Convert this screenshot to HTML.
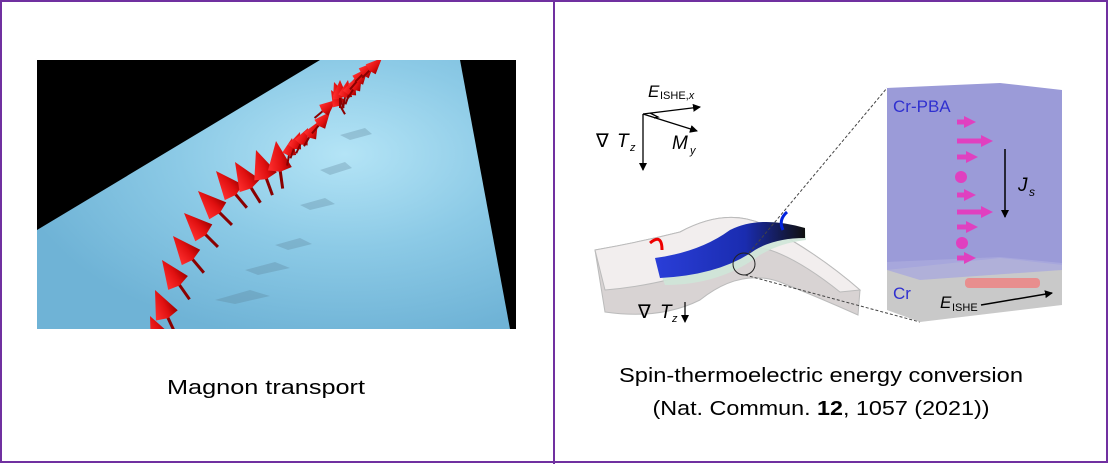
<!DOCTYPE html>
<html><head><meta charset="utf-8"><style>
html,body{margin:0;padding:0;background:#fff}
svg{display:block}
text{font-family:"Liberation Sans",sans-serif}
</style></head><body>
<svg width="1109" height="464" viewBox="0 0 1109 464" xmlns="http://www.w3.org/2000/svg">
<defs>
<radialGradient id="pl" cx="0.65" cy="0.35" r="0.7">
<stop offset="0" stop-color="#b4e4f6"/><stop offset="0.5" stop-color="#8ccae6"/><stop offset="1" stop-color="#6fb3d6"/>
</radialGradient>
<linearGradient id="cone" x1="0" y1="0" x2="1" y2="0"><stop offset="0" stop-color="#ff3030"/><stop offset="0.6" stop-color="#e01010"/><stop offset="1" stop-color="#a00000"/></linearGradient>
<marker id="ah" markerWidth="8" markerHeight="8" refX="7" refY="4" orient="auto" markerUnits="userSpaceOnUse"><path d="M0,0 L8,4 L0,8 z" fill="#000"/></marker>
<marker id="pk" markerWidth="12" markerHeight="12" refX="2" refY="6" orient="auto" markerUnits="userSpaceOnUse"><path d="M0,0 L12,6 L0,12 z" fill="#e040c0"/></marker>
<linearGradient id="blu" x1="0" y1="0" x2="1" y2="0"><stop offset="0" stop-color="#2a3ed8"/><stop offset="0.6" stop-color="#1a2cb0"/><stop offset="1" stop-color="#101010"/></linearGradient>
<g id="arr">
<line x1="0" y1="26" x2="0" y2="48" stroke="#8a0000" stroke-width="3"/>
<polygon points="0,0 -12,28 0,31 12,28" fill="url(#cone)"/>
</g>
<g id="arrs">
<line x1="0" y1="14" x2="0" y2="28" stroke="#8a0000" stroke-width="2"/>
<polygon points="0,0 -7,16 0,18 7,16" fill="url(#cone)"/>
</g>
</defs>
<rect x="0" y="0" width="1109" height="464" fill="#fff"/>
<rect x="1" y="1" width="1106" height="461" fill="none" stroke="#7030a0" stroke-width="2"/>
<line x1="554" y1="0" x2="554" y2="464" stroke="#7030a0" stroke-width="2"/>

<svg x="37" y="60" width="479" height="269" viewBox="37 60 479 269" overflow="hidden">
<rect x="37" y="60" width="479" height="269" fill="#000"/>
<polygon points="37,230 320,60 460,60 510,329 37,329" fill="url(#pl)"/>
<g fill="#5a7f95" opacity="0.3">
<polygon points="215,300 250,290 270,296 235,304"/>
<polygon points="245,270 275,262 290,268 258,275"/>
<polygon points="275,245 300,238 312,244 288,250"/>
<polygon points="300,205 325,198 335,204 310,210"/>
<polygon points="320,170 345,162 352,168 330,175"/>
<polygon points="340,135 365,128 372,134 350,140"/>
</g>
<use href="#arr" transform="translate(150,316) rotate(-25)"/>
<use href="#arr" transform="translate(155,290) rotate(-25)"/>
<use href="#arr" transform="translate(162,260) rotate(-35)"/>
<use href="#arr" transform="translate(173,236) rotate(-40)"/>
<use href="#arr" transform="translate(184,213) rotate(-45)"/>
<use href="#arr" transform="translate(198,191) rotate(-45)"/>
<use href="#arr" transform="translate(216,171) rotate(-40)"/>
<use href="#arr" transform="translate(235,162) rotate(-32)"/>
<use href="#arr" transform="translate(256,150) rotate(-20)"/>
<use href="#arr" transform="translate(276,141) rotate(-8)"/>
<use href="#arrs" transform="translate(292,138) rotate(10)"/>
<use href="#arrs" transform="translate(300,132) rotate(20)"/>
<use href="#arrs" transform="translate(308,128) rotate(25)"/>
<use href="#arrs" transform="translate(318,122) rotate(30)"/>
<use href="#arrs" transform="translate(330,112) rotate(40)"/>
<use href="#arrs" transform="translate(336,100) rotate(50)"/>
<use href="#arrs" transform="translate(331,90) rotate(-30)"/>
<use href="#arrs" transform="translate(334,82) rotate(-20)"/>
<use href="#arrs" transform="translate(340,80) rotate(0)"/>
<use href="#arrs" transform="translate(348,80) rotate(10)"/>
<use href="#arrs" transform="translate(355,78) rotate(20)"/>
<use href="#arrs" transform="translate(362,74) rotate(30)"/>
<use href="#arrs" transform="translate(368,68) rotate(40)"/>
<use href="#arrs" transform="translate(375,62) rotate(45)"/>
<use href="#arrs" transform="translate(382,58) rotate(45)"/>
</svg>
<text x="266" y="394" font-size="20" text-anchor="middle" textLength="198" lengthAdjust="spacingAndGlyphs">Magnon transport</text>

<g stroke="#000" stroke-width="1.3" fill="none">
<line x1="643" y1="114" x2="643" y2="170" marker-end="url(#ah)"/>
<line x1="643" y1="114" x2="700" y2="107" marker-end="url(#ah)"/>
<line x1="643" y1="114" x2="697" y2="131" marker-end="url(#ah)"/>
<path d="M650,113 l8,4 l-4,1"/>
</g>
<text x="648" y="97" font-size="17" font-style="italic">E</text>
<text x="660" y="99" font-size="11">ISHE,<tspan font-style="italic">x</tspan></text>
<text x="596" y="147" font-size="19">∇</text>
<text x="617" y="147" font-size="19" font-style="italic">T</text>
<text x="630" y="151" font-size="11" font-style="italic">z</text>
<text x="672" y="149" font-size="19" font-style="italic">M</text>
<text x="690" y="154" font-size="11" font-style="italic">y</text>

<path d="M595,250 Q640,242 680,232 Q730,205 770,228 Q820,255 860,290 L858,315 Q820,298 780,282 Q740,268 700,300 Q660,320 605,312 Z" fill="#d8d3d3" stroke="#bbb"/>
<path d="M595,250 Q640,242 680,232 Q730,205 770,228 Q820,255 860,290 L840,292 Q800,260 770,250 Q730,240 700,270 Q660,285 605,290 Z" fill="#f2eeee" stroke="#bbb"/>
<path d="M655,258 Q700,252 730,230 Q760,215 805,228 L806,240 Q780,243 760,255 Q720,285 665,285 Z" fill="#cfe6d8" opacity="0.9"/>
<path d="M655,258 Q700,252 730,230 Q760,215 805,228 L805,238 Q775,238 755,250 Q720,275 660,278 Z" fill="url(#blu)"/>
<path d="M660,258 Q672,248 672,265" stroke="#e00" stroke-width="3" fill="none" transform="translate(-10,-15)"/>
<path d="M787,212 Q778,220 783,230" stroke="#0022dd" stroke-width="3" fill="none"/>
<circle cx="744" cy="264" r="11" fill="none" stroke="#222" stroke-width="1"/>
<text x="638" y="318" font-size="19">∇</text>
<text x="660" y="318" font-size="19" font-style="italic">T</text>
<text x="672" y="322" font-size="11" font-style="italic">z</text>
<line x1="685" y1="302" x2="685" y2="322" stroke="#000" stroke-width="1.2" marker-end="url(#ah)"/>
<g stroke="#444" stroke-width="1" stroke-dasharray="3,2">
<line x1="749" y1="253" x2="887" y2="88"/>
<line x1="745" y1="275" x2="920" y2="322"/>
</g>

<polygon points="887,88 1000,83 1062,90 1062,265 887,270" fill="#9b9bd8"/>
<polygon points="887,270 1000,258 1062,265 1062,305 920,322 887,310" fill="#c9c9c9"/>
<polygon points="887,262 1000,257 1062,263 1062,270 920,280 887,270" fill="#aaaadd" opacity="0.8"/>
<text x="893" y="112" font-size="17" fill="#3030d0">Cr-PBA</text>
<text x="893" y="299" font-size="17" fill="#3030d0">Cr</text>
<g stroke="#e040c0" stroke-width="5" fill="none">
<line x1="957" y1="122" x2="966" y2="122" marker-end="url(#pk)"/>
<line x1="957" y1="141" x2="983" y2="141" marker-end="url(#pk)"/>
<line x1="957" y1="157" x2="968" y2="157" marker-end="url(#pk)"/>
<line x1="957" y1="195" x2="966" y2="195" marker-end="url(#pk)"/>
<line x1="957" y1="212" x2="983" y2="212" marker-end="url(#pk)"/>
<line x1="957" y1="227" x2="968" y2="227" marker-end="url(#pk)"/>
<line x1="957" y1="258" x2="966" y2="258" marker-end="url(#pk)"/>
</g>
<circle cx="961" cy="177" r="6" fill="#e040c0"/>
<circle cx="962" cy="243" r="6" fill="#e040c0"/>
<rect x="965" y="278" width="75" height="10" rx="4" fill="#f08080" opacity="0.8"/>
<line x1="1005" y1="149" x2="1005" y2="217" stroke="#000" stroke-width="1.5" marker-end="url(#ah)"/>
<text x="1018" y="191" font-size="19" font-style="italic">J</text>
<text x="1029" y="196" font-size="12" font-style="italic">s</text>
<text x="940" y="308" font-size="17" font-style="italic">E</text>
<text x="952" y="311" font-size="11">ISHE</text>
<line x1="981" y1="305" x2="1052" y2="293" stroke="#000" stroke-width="1.5" marker-end="url(#ah)"/>

<text x="821" y="382" font-size="20" text-anchor="middle" textLength="404" lengthAdjust="spacingAndGlyphs">Spin-thermoelectric  energy conversion</text>
<text x="821" y="415" font-size="20" text-anchor="middle" textLength="337" lengthAdjust="spacingAndGlyphs">(Nat. Commun. <tspan font-weight="bold">12</tspan>, 1057 (2021))</text>
</svg>
</body></html>
